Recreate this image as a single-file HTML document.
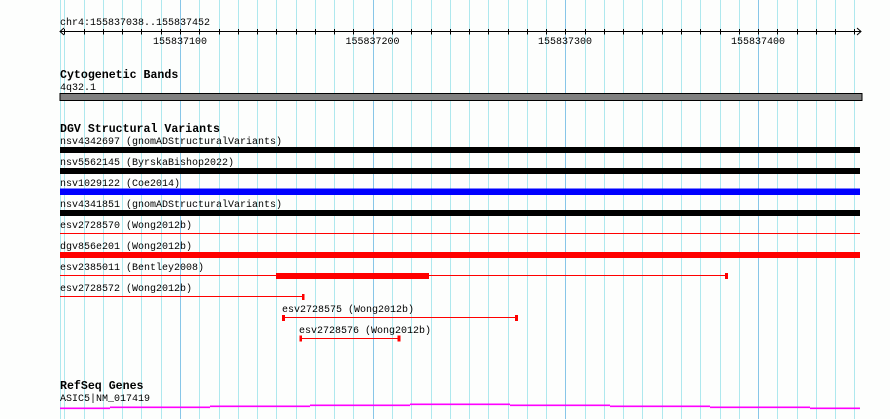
<!DOCTYPE html>
<html><head><meta charset="utf-8"><style>
html,body{margin:0;padding:0;background:#fdfefd;}
svg{display:block;}
text{font-family:"Liberation Mono","DejaVu Sans Mono",monospace;font-size:10px;fill:#000;}
.h{font-weight:bold;font-size:11.6px;}
</style></head><body>
<svg width="890" height="419" viewBox="0 0 890 419" xmlns="http://www.w3.org/2000/svg">
<rect width="890" height="419" fill="#fdfefd"/>
<g id="grid"></g>
<g id="ticks"></g>
<line x1="60" y1="31.5" x2="861" y2="31.5" stroke="#000" stroke-width="1"/>
<polyline points="64,28 60,31.5 64,35" fill="none" stroke="#000"/>
<polyline points="857,28 861,31.5 857,35" fill="none" stroke="#000"/>
<text x="60" y="25">chr4:155837038..155837452</text>
<text x="180" y="44" text-anchor="middle">155837100</text>
<text x="372.5" y="44" text-anchor="middle">155837200</text>
<text x="565" y="44" text-anchor="middle">155837300</text>
<text x="758" y="44" text-anchor="middle">155837400</text>

<text class="h" x="60" y="78">Cytogenetic Bands</text>
<text x="60" y="90">4q32.1</text>
<rect x="60" y="93.5" width="802" height="7" fill="#808080" stroke="#000" stroke-width="1"/>

<text class="h" x="60" y="132">DGV Structural Variants</text>
<text x="60" y="144">nsv4342697 (gnomADStructuralVariants)</text>
<rect x="60" y="147" width="800" height="6" fill="#000"/>
<text x="60" y="165">nsv5562145 (ByrskaBishop2022)</text>
<rect x="60" y="168" width="800" height="6" fill="#000"/>
<text x="60" y="186">nsv1029122 (Coe2014)</text>
<rect x="60" y="188.5" width="800" height="6.5" fill="#0000ff"/>
<text x="60" y="207">nsv4341851 (gnomADStructuralVariants)</text>
<rect x="60" y="210" width="800" height="6" fill="#000"/>
<text x="60" y="228">esv2728570 (Wong2012b)</text>
<rect x="60" y="233" width="800" height="1" fill="#ff0000"/>
<text x="60" y="249">dgv856e201 (Wong2012b)</text>
<rect x="60" y="252" width="800" height="6" fill="#ff0000"/>
<text x="60" y="270">esv2385011 (Bentley2008)</text>
<rect x="60" y="275" width="667" height="1" fill="#ff0000"/>
<rect x="276" y="273" width="153" height="6" fill="#ff0000"/>
<rect x="725" y="273" width="3" height="6" fill="#ff0000"/>
<text x="60" y="291">esv2728572 (Wong2012b)</text>
<rect x="60" y="296" width="243" height="1" fill="#ff0000"/>
<rect x="302" y="294" width="2.5" height="6" fill="#ff0000"/>
<text x="282" y="312">esv2728575 (Wong2012b)</text>
<rect x="283" y="317" width="234" height="1" fill="#ff0000"/>
<rect x="282" y="315" width="3" height="6" fill="#ff0000"/>
<rect x="515" y="315" width="3" height="6" fill="#ff0000"/>
<text x="299" y="333">esv2728576 (Wong2012b)</text>
<rect x="300" y="338" width="100" height="1" fill="#ff0000"/>
<rect x="299.5" y="335.5" width="2.5" height="6" fill="#ff0000"/>
<rect x="397.5" y="335.5" width="3" height="6" fill="#ff0000"/>

<text class="h" x="60" y="389">RefSeq Genes</text>
<text x="60" y="401">ASIC5|NM_017419</text>
<g stroke="#ff00ff" stroke-width="1.6">
<line x1="60" y1="408.3" x2="110" y2="408.3"/>
<line x1="110" y1="407.3" x2="210" y2="407.3"/>
<line x1="210" y1="406.3" x2="310" y2="406.3"/>
<line x1="310" y1="405.3" x2="410" y2="405.3"/>
<line x1="410" y1="404.3" x2="510" y2="404.3"/>
<line x1="510" y1="405.3" x2="610" y2="405.3"/>
<line x1="610" y1="406.3" x2="710" y2="406.3"/>
<line x1="710" y1="407.3" x2="810" y2="407.3"/>
<line x1="810" y1="408.3" x2="860" y2="408.3"/>
</g>
<script>
(function(){
var ns="http://www.w3.org/2000/svg",g=document.getElementById("grid"),t=document.getElementById("ticks");
function ln(p,x1,y1,x2,y2,c){var l=document.createElementNS(ns,"line");l.setAttribute("x1",x1);l.setAttribute("y1",y1);l.setAttribute("x2",x2);l.setAttribute("y2",y2);l.setAttribute("stroke",c);l.setAttribute("stroke-width","1");p.appendChild(l);}
var s=19.27;
ln(g,60.5,0,60.5,419,"#aee8ee");
for(var k=-6;k<=35;k++){var x=Math.round(180+s*k)+0.5;if(x<62||x>858)continue;var major=(k%10===0);
ln(g,x,0,x,419,major?"#87c6e8":"#aee8ee");
ln(t,x,29,x,34.5,"#000");}
})();
</script>
</svg>
</body></html>
